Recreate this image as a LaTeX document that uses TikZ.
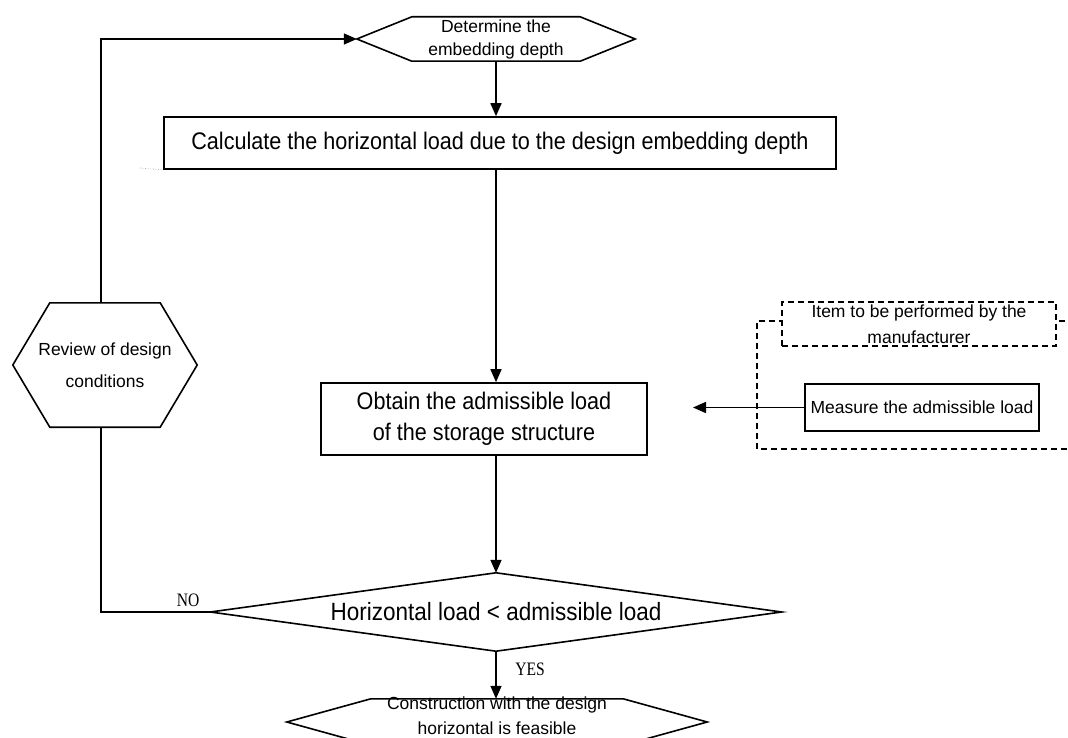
\documentclass[tikz,border=0pt]{standalone}
\usepackage{fontspec}
\setmainfont{Liberation Sans}
\newfontfamily\bigfont{Liberation Sans}[FakeStretch=0.9]
\newfontfamily\lblfont{Liberation Serif}[FakeStretch=0.82]
\usetikzlibrary{arrows.meta,calc}

\newcommand\hexoutline[2]{%
  \draw[shapeline] (#1.west) -- ($(#1.north west)+(#2,0)$) -- ($(#1.north east)-(#2,0)$) -- (#1.east)
    -- ($(#1.south east)-(#2,0)$) -- ($(#1.south west)+(#2,0)$) -- cycle;}
\newcommand\diaoutline[1]{%
  \draw[shapeline] (#1.west) -- (#1.north) -- (#1.east) -- (#1.south) -- cycle;}

\tikzset{
  shapeline/.style={line width=1.6pt, line join=miter},
  plainbox/.style={draw, line width=1.6pt, inner sep=0pt, align=center},
  hexnode/.style={inner sep=0pt, align=center},
  dashbox/.style={draw, line width=1.4pt, dash pattern=on 6pt off 4pt, inner sep=0pt, align=center},
  flow/.style={line width=1.6pt, -{Triangle[length=13pt,width=11pt]}},
  link/.style={line width=1.6pt},
  smalltxt/.style={font=\fontsize{17.5}{23}\selectfont},
  bigtxt/.style={font=\bigfont\fontsize{24}{31}\selectfont},
  lbl/.style={font=\lblfont\fontsize{19}{21}\selectfont, inner sep=0pt}
}

\begin{document}
\begin{tikzpicture}[x=1pt,y=-1pt]
\useasboundingbox (0,0) rectangle (1068,738);
\clip (0,0) rectangle (1068,738);
\fill[white] (0,0) rectangle (1068,738);

% top hexagon
\node[hexnode, minimum width=278pt, minimum height=44pt, smalltxt] (det) at (496,39) {Determine the\\embedding depth};
\hexoutline{det}{55}

% calculate box
\node[plainbox, minimum width=672pt, minimum height=52pt, bigtxt] (calc) at (500,143) {Calculate the horizontal load due to the design embedding depth};
\draw[dotted, line width=0.6pt, gray] (140,168) -- (calc.south west);

% obtain box
\node[plainbox, minimum width=326pt, minimum height=72pt, bigtxt] (obt) at (484,419) {Obtain the admissible load\\of the storage structure};

% review hexagon
\node[hexnode, minimum width=184pt, minimum height=124pt, font=\fontsize{17.5}{32}\selectfont] (rev) at (105,365) {Review of design\\conditions};
\hexoutline{rev}{37}

% decision diamond
\node[inner sep=0pt, minimum width=571pt, minimum height=78pt, font=\bigfont\fontsize{25}{30}\selectfont] (dia) at (496,612) {Horizontal load < admissible load};
\diaoutline{dia}

% final hexagon
\node[hexnode, minimum width=420pt, minimum height=46pt] (fin) at (497,722) {};
\hexoutline{fin}{84}
\node[hexnode, font=\fontsize{17.5}{25}\selectfont] (fintxt) at (497,716) {Construction with the design\\horizontal is feasible};

% manufacturer group
\draw[line width=1.4pt, dash pattern=on 6pt off 4pt] (1075,321) -- (757,321) -- (757,449) -- (1075,449);
\node[dashbox, fill=white, minimum width=274pt, minimum height=44pt, font=\fontsize{17.5}{26}\selectfont] (item) at (919,324) {Item to be performed by the\\manufacturer};
\node[plainbox, line width=1.4pt, minimum width=234pt, minimum height=47pt, smalltxt] (meas) at (922,407.5) {Measure the admissible load};
\coordinate (mtip) at (693,407.5);
\draw[flow] (meas.west) -- (mtip);

% main flow (vertical column at x = 496)
\draw[flow] (det.south) -- (det.south |- calc.north);
\draw[flow] (det.south |- calc.south) -- (det.south |- obt.north);
\draw[flow] (det.south |- obt.south) -- (dia.north);
\draw[flow] (dia.south) -- (fin.north -| dia.south);

% NO loop
\coordinate (nocorner) at (101,612);
\coordinate (topcorner) at (101,39);
\draw[link] (dia.west) -- (nocorner) -- (nocorner |- rev.south);
\draw[flow] (rev.north -| nocorner) -- (topcorner) -- (det.west);

% labels
\node[lbl] (no) at (188,600) {NO};
\node[lbl] (yes) at (530,669) {YES};
\end{tikzpicture}
\end{document}
